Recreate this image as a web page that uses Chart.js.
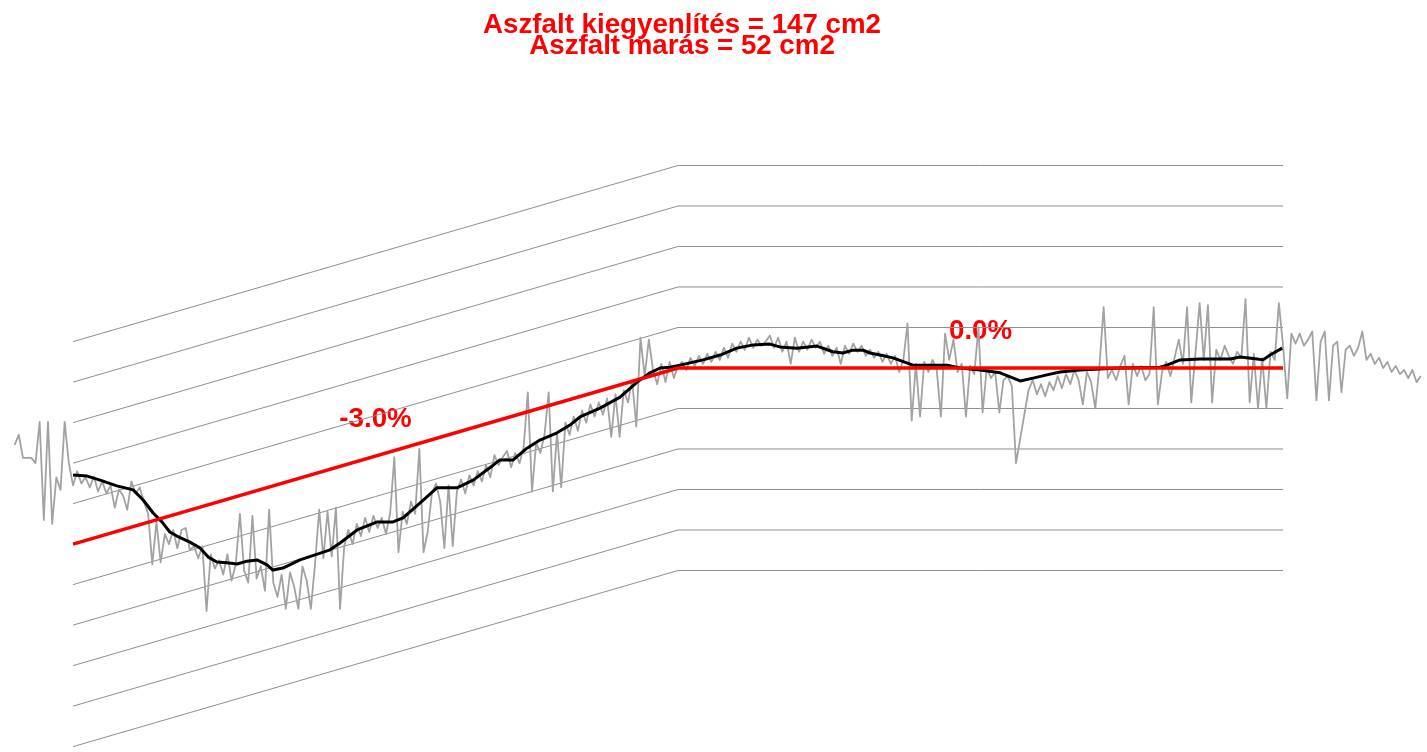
<!DOCTYPE html>
<html>
<head>
<meta charset="utf-8">
<script src="https://cdn.jsdelivr.net/npm/chart.js@4/dist/chart.umd.min.js"></script>
<style>
  html, body { margin: 0; padding: 0; background: #ffffff; }
  canvas { display: block; }
</style>
</head>
<body>
<canvas id="profile" width="1427" height="752"></canvas>
<script>
// Cross-section profile: x = distance across the lane (cm), y = surface height (mm)

// Header lines
const FILL_AREA_CM2 = 147;
const MILL_AREA_CM2 = 52;
const TITLE_LINES = [
  'Aszfalt kiegyenlítés = ' + FILL_AREA_CM2 + ' cm2',
  'Aszfalt marás = ' + MILL_AREA_CM2 + ' cm2'
];

// Design cross-fall: break points (cm) and grade of each segment (%)
const DESIGN_X_CM = [0, 145, 290];
const DESIGN_GRADES = [-3.0, 0.0];
const DESIGN_BREAK_MM = 0;

// Reference lines parallel to the design profile (mm)
const GRID_OFFSETS_MM = [-50, -40, -30, -20, -10, 10, 20, 30, 40, 50];

// Raw laser measurement, one sample per cm starting at -14 cm
const MEASURE_START_CM = -14;
const MEASURE_STEP_CM = 1;
const MEASURED_MM = [
  // -14 .. -1
  -19.0, -16.5, -22.2, -22.2, -22.2, -23.5, -13.3, -37.5, -13.3, -38.5, -27.0, -30.1, -13.3, -23.5,
  // 0 .. 65
  -29.0, -25.5, -28.5, -27.0, -29.5, -26.8, -30.5, -28.0, -31.0, -29.0,
  -34.5, -30.0, -31.5, -35.0, -28.0, -31.0, -29.5, -33.0, -36.0, -48.5,
  -38.0, -48.0, -41.0, -43.5, -40.0, -44.5, -40.0, -39.5, -45.0, -44.0,
  -47.0, -44.0, -60.0, -46.0, -49.5, -47.5, -51.0, -46.0, -52.5, -48.5,
  -36.0, -50.0, -53.0, -36.5, -52.0, -49.0, -55.0, -35.0, -53.0, -56.5,
  -51.0, -59.5, -50.5, -54.0, -59.5, -49.0, -52.5, -59.5, -48.5, -35.0,
  -47.0, -35.5, -46.5, -34.5, -59.5, -44.0,
  // 66 .. 145
  -40.0, -43.5, -38.5, -41.5, -37.0, -40.5, -36.5, -39.5, -37.0, -41.0,
  -36.0, -22.0, -45.5, -35.5, -38.5, -33.0, -36.0, -20.0, -45.5, -40.5,
  -31.0, -28.5, -33.0, -44.5, -29.0, -44.0, -30.5, -27.5, -31.0, -26.5,
  -29.0, -25.5, -28.0, -24.0, -27.0, -21.5, -24.0, -22.0, -20.5, -24.5,
  -21.0, -23.5, -19.5, -6.0, -30.5, -18.5, -21.0, -16.5, -6.0, -30.5,
  -16.0, -29.5, -13.5, -16.5, -12.0, -15.5, -10.5, -13.5, -9.0, -12.0,
  -8.5, -11.5, -7.5, -17.0, -6.5, -17.0, -5.5, -8.5, -3.0, -14.5,
  7.5, -2.0, 7.0, -0.5, -4.0, 1.0, -3.5, 1.5, -2.5, 0.5,
  // 146 .. 213
  1.5, -0.5, 2.5, 0.5, 3.0, 1.0, 3.5, 1.5, 4.0, 2.0,
  5.0, 2.5, 6.0, 4.0, 6.5, 4.5, 7.5, 5.0, 7.0, 5.5,
  6.5, 8.0, 5.0, 7.5, 4.0, 6.5, 1.0, 7.5, 4.0, 6.5,
  4.5, 7.0, 5.0, 6.5, 3.5, 5.5, 3.0, 5.0, 1.0, 5.5,
  3.5, 6.0, 4.0, 5.5, 3.0, 4.5, 2.5, 4.0, 1.5, 3.5,
  1.0, 3.0, -1.0, 2.0, 11.0, -13.0, 1.0, -12.0, 1.5, -1.0,
  2.0, -0.5, -12.0, 8.5, 2.0, 7.0, -1.0, 1.0,
  // 214 .. 290 (two dropped samples after the pothole at 226 cm)
  -12.0, 0.5, -1.5, 10.0, -11.0, 0.0, -2.5, -1.0, -11.0, -3.0,
  -2.0, -4.5, -23.5, null, null, -5.5, -3.0, -6.5, -4.0, -7.0,
  -3.5, -5.5, -2.0, -5.0, -1.5, -4.0, -0.5, -3.0, -9.0, -1.0,
  -3.5, -10.0, 0.5, 15.0, -2.5, -0.5, -3.0, 0.5, 3.0, -9.0,
  1.0, -2.0, 0.5, -3.0, -1.5, 15.0, -9.0, -1.0, 1.5, -2.0,
  2.5, 7.0, 1.0, 15.0, -8.5, 3.5, 16.0, 2.0, 15.5, -8.5,
  4.5, 2.0, 5.5, 3.0, 1.0, 4.0, 2.5, 17.0, -8.5, 3.5,
  -10.0, 2.5, -10.0, 4.0, 2.0, 16.0, 5.5,
  // 291 .. 323 (shoulder)
  -7.5, 8.5, 6.0, 8.5, 5.5, 7.0, 9.0, -8.0, 6.5, 9.0,
  -8.0, 5.5, 6.5, -6.0, 4.5, 5.5, 3.0, 5.0, 9.0, 2.0,
  3.5, 1.0, 2.5, 0.0, 1.5, -1.0, 0.5, -1.5, -0.5, -2.5,
  -0.5, -3.5, -2.0
];

// Smoothed surface over the lane width
const SMOOTH_X_CM = [
  0, 3.4, 6.5, 10.5, 14.4, 16.8, 19.2, 21.3, 23.2, 24.9,
  28.0, 30.4, 32.4, 34.5, 36.9, 39.3, 41.7, 44.1, 46.5, 47.9,
  50.3, 54.4, 61.6, 64.0, 68.1, 72.9, 76.7, 79.1, 83.2, 87.2,
  92.0, 95.9, 100.7, 102.3, 105.5, 108.8, 111.9, 116.0, 119.1, 121.5,
  126.3, 131.1, 135.2, 138.3, 140.7, 143.1, 145.5, 151.0, 155.1, 159.1,
  163.0, 167.0, 169.4, 173.5, 178.3, 182.1, 184.5, 186.9, 189.3, 191.0,
  193.4, 196.5, 201.3, 206.1, 209.5, 212.6, 217.4, 222.2, 227.0, 230.1,
  233.4, 236.6, 241.3, 250.9, 260.5, 262.2, 265.3, 270.1, 277.3, 279.7,
  283.8, 285.2, 286.9, 289.8
];
const SMOOTH_MM = [
  -26.4, -26.7, -27.7, -29.1, -30.1, -32.6, -35.8, -38.0, -40.5, -41.5,
  -43.0, -44.4, -46.7, -47.9, -48.1, -48.4, -47.7, -47.4, -48.6, -49.9,
  -49.4, -47.4, -44.9, -43.2, -40.0, -38.0, -38.0, -37.0, -33.3, -29.6,
  -29.6, -27.7, -24.0, -22.7, -22.7, -19.8, -17.8, -16.0, -14.1, -12.1,
  -9.9, -7.2, -3.5, -1.2, 0.0, 0.2, 0.7, 2.0, 3.2, 4.9,
  5.7, 5.9, 5.2, 4.9, 5.4, 4.0, 3.7, 4.4, 4.4, 3.7,
  3.2, 2.5, 0.7, 0.7, 0.7, 0.0, -0.5, -1.2, -3.2, -2.5,
  -1.7, -1.0, -0.5, 0.0, 0.2, 0.7, 2.0, 2.2, 2.2, 2.7,
  2.2, 2.0, 3.2, 4.9
];

// Axis windows (cm / mm)
const X_MIN = -17.5, X_MAX = 324.5;
const Y_MIN = -94.82, Y_MAX = 90.86;

// Design profile heights at the break points, from the stated grades
const BREAK_INDEX = 1;
const designY = DESIGN_X_CM.map((xv, i) => {
  if (i === BREAK_INDEX) return DESIGN_BREAK_MM;
  const seg = i < BREAK_INDEX ? i : i - 1;
  const run = Math.abs(xv - DESIGN_X_CM[BREAK_INDEX]) * 10; // cm -> mm
  return DESIGN_BREAK_MM + DESIGN_GRADES[seg] / 100 * run;
});

const designPoints = DESIGN_X_CM.map((xv, i) => ({ x: xv, y: designY[i] }));
const measuredPoints = MEASURED_MM.map((v, i) => ({ x: MEASURE_START_CM + i * MEASURE_STEP_CM, y: v }));
const smoothPoints = SMOOTH_X_CM.map((xv, i) => ({ x: xv, y: SMOOTH_MM[i] }));

const datasets = [
  { label: 'Terv', data: designPoints, borderColor: '#ff0000', borderWidth: 3.5 },
  { label: 'Simított', data: smoothPoints, borderColor: '#000000', borderWidth: 3 },
  { label: 'Mért', data: measuredPoints, borderColor: '#a2a2a2', borderWidth: 1.8, spanGaps: true }
];
GRID_OFFSETS_MM.forEach(off => {
  datasets.push({
    label: 'Rács ' + off,
    data: DESIGN_X_CM.map((xv, i) => ({ x: xv, y: designY[i] + off })),
    borderColor: '#8e8e8e',
    borderWidth: 1
  });
});

// Header and grade labels, drawn under the profile lines
const profileText = {
  id: 'profileText',
  beforeDatasetsDraw(chart) {
    const { ctx, scales: { x, y } } = chart;
    ctx.save();
    ctx.fillStyle = '#ff0000';
    ctx.font = 'bold 27.7px "Liberation Sans", Arial, sans-serif';
    ctx.textAlign = 'center';
    ctx.textBaseline = 'alphabetic';
    const cx = x.getPixelForValue(DESIGN_X_CM[BREAK_INDEX]) + 4;
    TITLE_LINES.forEach((t, i) => ctx.fillText(t, cx, 33 + i * 21));
    for (let s = 0; s < DESIGN_GRADES.length; s++) {
      const mx = (DESIGN_X_CM[s] + DESIGN_X_CM[s + 1]) / 2;
      const my = (designY[s] + designY[s + 1]) / 2;
      ctx.fillText(DESIGN_GRADES[s].toFixed(1) + '%', x.getPixelForValue(mx), y.getPixelForValue(my) - 29);
    }
    ctx.restore();
  }
};

new Chart(document.getElementById('profile'), {
  type: 'line',
  data: { datasets },
  options: {
    responsive: false,
    animation: false,
    events: [],
    layout: { padding: 0 },
    elements: {
      point: { radius: 0 },
      line: { tension: 0, fill: false, borderJoinStyle: 'round', borderCapStyle: 'butt' }
    },
    plugins: { legend: { display: false }, tooltip: { enabled: false }, title: { display: false } },
    scales: {
      x: { type: 'linear', min: X_MIN, max: X_MAX, display: false },
      y: { type: 'linear', min: Y_MIN, max: Y_MAX, display: false }
    }
  },
  plugins: [profileText]
});
</script>
</body>
</html>
